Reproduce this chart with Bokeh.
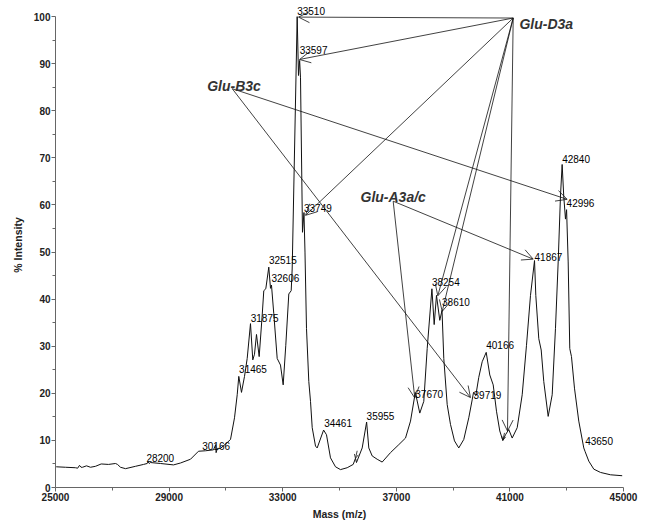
from bokeh.plotting import figure
from bokeh.models import (Arrow, OpenHead, LabelSet, Label, ColumnDataSource,
                          FixedTicker, Range1d)
from bokeh.core.properties import value
from bokeh.embed import file_html
from bokeh.resources import INLINE

# ---- spectrum (mass m/z, % intensity) ----
mass = [25025, 25352, 25704, 25780, 25845, 25900, 25951, 26092, 26232, 26408,
        26609, 26866, 27113, 27183, 27289, 27465, 27817, 28100, 28229, 28260,
        28300, 28345, 28697, 29155, 29401, 29753, 30035, 30282, 30563, 30640,
        30655, 30700, 30810, 31056, 31162, 31303, 31398, 31454, 31549, 31655,
        31750, 31866, 31947, 32007, 32077, 32172, 32278, 32334, 32405, 32510,
        32570, 32605, 32686, 32806, 32922, 33017, 33109, 33215, 33299, 33334,
        33510, 33556, 33597, 33627, 33697, 33749, 33785, 33838, 33919, 33979,
        34039, 34155, 34214, 34440, 34542, 34683, 34859, 35035, 35271, 35482,
        35563, 35598, 35799, 35955, 36032, 36151, 36327, 36503, 36795, 37088,
        37324, 37500, 37670, 37827, 37968, 38088, 38254, 38334, 38415, 38531,
        38610, 38672, 38792, 38908, 39049, 39200, 39376, 39552, 39671, 39719,
        39799, 39904, 40024, 40166, 40292, 40412, 40528, 40644, 40750, 40845,
        40961, 41081, 41257, 41433, 41584, 41725, 41867, 41912, 42017, 42102,
        42193, 42348, 42489, 42605, 42700, 42781, 42840, 42896, 42957, 42996,
        43052, 43108, 43168, 43274, 43425, 43601, 43650, 43778, 43954, 44190,
        44542, 44954]
intensity = [4.4, 4.3, 4.2, 4.1, 4.7, 4.3, 4.3, 4.6, 4.3, 4.5,
             5.0, 4.9, 5.1, 4.9, 4.3, 4.0, 4.5, 4.9, 5.1, 5.5,
             5.1, 5.3, 5.1, 4.8, 5.2, 6.0, 7.7, 7.8, 8.0, 9.1,
             7.4, 8.3, 8.3, 9.6, 10.2, 14.8, 19.7, 23.6, 20.2, 23.6,
             27.4, 34.8, 27.1, 28.3, 32.5, 27.8, 36.6, 41.8, 42.2, 46.8,
             42.3, 43.0, 36.9, 27.4, 26.0, 21.8, 30.2, 41.1, 41.8, 46.4,
             100.0, 87.5, 90.7, 87.0, 54.2, 58.4, 50.0, 33.8, 22.5, 18.3,
             12.7, 8.8, 8.4, 12.2, 11.2, 6.3, 4.4, 3.8, 4.2, 4.9,
             6.2, 5.3, 8.4, 13.9, 8.4, 6.7, 6.0, 5.4, 7.4, 9.1,
             10.5, 14.1, 20.2, 15.8, 18.3, 29.5, 42.2, 34.6, 40.8, 35.5,
             37.6, 27.4, 17.6, 13.4, 9.9, 8.4, 10.2, 14.8, 18.6, 20.2,
             19.5, 23.4, 26.7, 28.7, 23.9, 21.8, 16.2, 12.0, 10.0, 11.2,
             12.3, 10.5, 12.7, 19.7, 30.2, 40.8, 48.2, 40.8, 31.6, 29.2,
             22.5, 15.1, 19.7, 33.8, 47.9, 61.9, 68.6, 61.9, 57.0, 59.0,
             47.9, 29.5, 27.8, 21.1, 14.1, 8.4, 7.6, 5.6, 3.9, 3.2,
             2.7, 2.5]

# ---- peak labels ----
peak_mass = [28200, 30166, 31465, 31875, 32515, 32606, 33510, 33597, 33749,
             34461, 35955, 37670, 38254, 38610, 39719, 40166, 41867, 42840,
             42996, 43650]
peak_label_y = [5.5, 7.9, 24.3, 35.2, 47.4, 43.7, 100.4, 92.0, 58.6,
                12.8, 14.4, 19.0, 42.8, 38.5, 18.8, 29.4, 48.2, 69.0,
                59.6, 9.0]
peak_text = [str(m) for m in peak_mass]

# ---- group annotations ----
group_names = ["Glu-D3a", "Glu-B3c", "Glu-A3a/c"]
group_text_x = [41337, 30341, 35739]
group_text_y = [98.5, 85.2, 61.8]
group_src_x = [41116, 31222, 36890]
group_src_y = [99.7, 84.7, 60.8]
# arrow targets for each group
group_targets = [
    [(33556, 99.9), (33591, 90.9), (33803, 57.8), (38461, 40.7),
     (38616, 37.4), (40915, 12.0)],
    [(43017, 61.2), (39612, 19.1)],
    [(41820, 48.5), (37651, 19.0)],
]
# small unlabelled markers
small_marks = [(35563, 6.2), (40750, 10.0)]

x_ticks = [25000, 29000, 33000, 37000, 41000, 45000]
x_minor = [27000, 31000, 35000, 39000, 43000]
y_ticks = [0, 10, 20, 30, 40, 50, 60, 70, 80, 90, 100]
y_minor = [5, 15, 25, 35, 45, 55, 65, 75, 85, 95]

FONT = "Liberation Sans"

p = figure(width=645, height=522,
           x_range=Range1d(25000, 45000), y_range=Range1d(0, 103),
           output_backend="svg", toolbar_location=None,
           min_border_left=55, min_border_right=22,
           min_border_top=2, min_border_bottom=32)
p.outline_line_color = None
p.xgrid.visible = False
p.ygrid.visible = False
p.background_fill_color = "white"
p.border_fill_color = "white"

p.line(mass, intensity, line_color="#111111", line_width=1)

# axes
p.xaxis.ticker = FixedTicker(ticks=x_ticks, minor_ticks=x_minor)
p.yaxis.ticker = FixedTicker(ticks=y_ticks, minor_ticks=y_minor)
p.yaxis.bounds = (0, 100)
for ax in (p.xaxis[0], p.yaxis[0]):
    ax.axis_line_color = "#666666"
    ax.major_tick_line_color = "#666666"
    ax.minor_tick_line_color = "#666666"
    ax.major_tick_in = 0
    ax.major_tick_out = 4
    ax.minor_tick_in = 0
    ax.minor_tick_out = 3
    ax.major_label_text_font = FONT
    ax.major_label_text_font_size = "10px"
    ax.major_label_text_font_style = "bold"
    ax.major_label_text_color = "#222222"
    ax.axis_label_text_font = FONT
    ax.axis_label_text_font_size = "10.5px"
    ax.axis_label_text_font_style = "bold"
    ax.axis_label_text_color = "#222222"
p.xaxis.axis_label = "Mass (m/z)"
p.yaxis.axis_label = "% Intensity"
p.xaxis.major_label_standoff = 1
p.xaxis.axis_label_standoff = 4
p.yaxis.major_label_standoff = 1
p.yaxis.axis_label_standoff = 7

# peak labels
lsrc = ColumnDataSource(dict(x=peak_mass, y=peak_label_y, t=peak_text))
p.add_layout(LabelSet(x="x", y="y", text="t", source=lsrc,
                      text_font=value(FONT), text_font_size="10px",
                      text_color="#000000", text_baseline="alphabetic",
                      text_align="left"))

# group arrows
xs, ys, xe, ye = [], [], [], []
for sx, sy, tg in zip(group_src_x, group_src_y, group_targets):
    for tx, ty in tg:
        xs.append(sx); ys.append(sy); xe.append(tx); ye.append(ty)
asrc = ColumnDataSource(dict(xs=xs, ys=ys, xe=xe, ye=ye))
p.add_layout(Arrow(end=OpenHead(size=11, line_width=0.8, line_color="#111111"),
                   x_start="xs", y_start="ys", x_end="xe", y_end="ye",
                   source=asrc, line_width=0.8, line_color="#111111"))

# small markers
for mx, my in small_marks:
    p.add_layout(Arrow(end=OpenHead(size=4, line_width=0.8, line_color="#111111"),
                       x_start=mx + 60, y_start=my + 1.6, x_end=mx, y_end=my,
                       line_width=0.8, line_color="#111111"))

# group names
for name, gx, gy in zip(group_names, group_text_x, group_text_y):
    p.add_layout(Label(x=gx, y=gy, text=name, text_font=FONT,
                       text_font_size="14px", text_font_style="bold italic",
                       text_color="#333333", text_baseline="alphabetic"))

open("out.html", "w").write(file_html(p, INLINE))
